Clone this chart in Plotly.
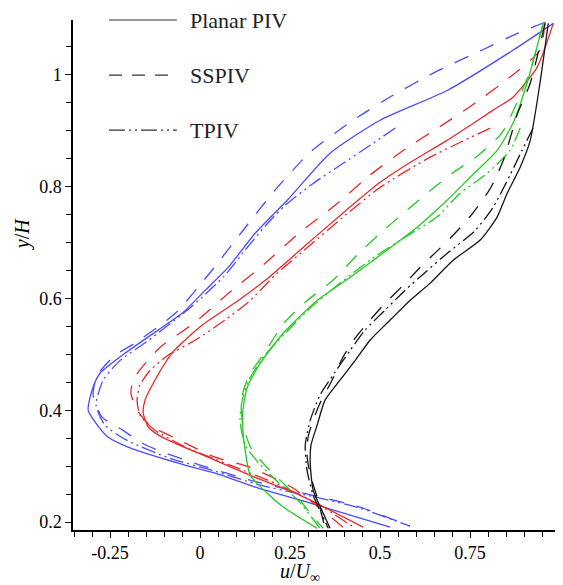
import plotly.graph_objects as go

# ---- data (u/U_inf, y/H) ----
blue_planar_u = [0.981, 0.869, 0.686, 0.5, 0.361, 0.242, 0.153, 0.078, 0.014, -0.05, -0.117, -0.208, -0.278, -0.3, -0.311, -0.292, -0.256, -0.2, -0.117, -0.042, 0.042, 0.153, 0.306, 0.528]
blue_planar_y = [1.091, 1.043, 0.971, 0.918, 0.859, 0.775, 0.716, 0.655, 0.614, 0.573, 0.543, 0.502, 0.466, 0.436, 0.4, 0.379, 0.352, 0.334, 0.316, 0.302, 0.2875, 0.2625, 0.234, 0.191]

blue_sspiv_u = [0.958, 0.881, 0.769, 0.653, 0.536, 0.425, 0.306, 0.208, 0.119, 0.033, -0.069, -0.181, -0.236, -0.286, -0.297, -0.272, -0.214, -0.161, -0.103, 0.0, 0.139, 0.333, 0.444, 0.583]
blue_sspiv_y = [1.093, 1.073, 1.039, 1.004, 0.9625, 0.918, 0.861, 0.793, 0.721, 0.65, 0.573, 0.520, 0.498, 0.4625, 0.427, 0.3875, 0.364, 0.341, 0.325, 0.302, 0.275, 0.245, 0.227, 0.193]

blue_tpiv_u = [0.542, 0.481, 0.389, 0.314, 0.236, 0.181, 0.125, 0.069, -0.022, -0.147, -0.222, -0.269, -0.289, -0.264, -0.203, -0.083, 0.042, 0.167, 0.333, 0.444, 0.583]
blue_tpiv_y = [0.904, 0.877, 0.8375, 0.805, 0.766, 0.729, 0.686, 0.641, 0.586, 0.523, 0.489, 0.454, 0.409, 0.373, 0.346, 0.314, 0.291, 0.266, 0.243, 0.225, 0.193]

red_planar_u = [0.981, 0.936, 0.869, 0.814, 0.686, 0.592, 0.5, 0.389, 0.278, 0.181, 0.106, 0.006, -0.078, -0.125, -0.153, -0.158, -0.144, -0.106, 0.022, 0.153, 0.278, 0.453]
red_planar_y = [1.091, 1.0125, 0.959, 0.936, 0.882, 0.846, 0.807, 0.748, 0.686, 0.632, 0.596, 0.552, 0.502, 0.454, 0.418, 0.395, 0.370, 0.352, 0.316, 0.280, 0.248, 0.191]

red_sspiv_u = [0.958, 0.944, 0.861, 0.756, 0.667, 0.569, 0.472, 0.375, 0.278, 0.181, 0.083, -0.014, -0.111, -0.161, -0.186, -0.192, -0.175, -0.139, -0.056, 0.042, 0.139, 0.258, 0.397]
red_sspiv_y = [1.093, 1.043, 0.995, 0.945, 0.907, 0.866, 0.820, 0.766, 0.718, 0.6625, 0.611, 0.557, 0.5125, 0.477, 0.454, 0.430, 0.4, 0.373, 0.346, 0.316, 0.298, 0.261, 0.191]

red_tpiv_u = [0.806, 0.639, 0.5, 0.403, 0.306, 0.208, 0.139, 0.069, -0.014, -0.089, -0.139, -0.167, -0.175, -0.167, -0.125, -0.033, 0.083, 0.222, 0.333, 0.422]
red_tpiv_y = [0.904, 0.852, 0.798, 0.748, 0.695, 0.641, 0.596, 0.561, 0.525, 0.498, 0.471, 0.445, 0.418, 0.391, 0.364, 0.332, 0.302, 0.266, 0.230, 0.193]

green_planar_u = [0.953, 0.908, 0.869, 0.825, 0.75, 0.686, 0.603, 0.492, 0.417, 0.325, 0.231, 0.167, 0.131, 0.119, 0.119, 0.125, 0.139, 0.186, 0.231, 0.325]
green_planar_y = [1.091, 0.984, 0.9125, 0.864, 0.816, 0.775, 0.727, 0.673, 0.6375, 0.596, 0.5375, 0.484, 0.441, 0.4, 0.364, 0.329, 0.284, 0.252, 0.227, 0.189]

green_sspiv_u = [0.953, 0.917, 0.889, 0.839, 0.772, 0.7, 0.633, 0.569, 0.5, 0.436, 0.369, 0.292, 0.228, 0.181, 0.136, 0.114, 0.119, 0.144, 0.186, 0.242, 0.278, 0.314, 0.342]
green_sspiv_y = [1.091, 1.007, 0.9625, 0.896, 0.855, 0.823, 0.789, 0.754, 0.716, 0.677, 0.632, 0.593, 0.552, 0.504, 0.4625, 0.418, 0.373, 0.329, 0.298, 0.2625, 0.239, 0.209, 0.189]

green_tpiv_u = [0.889, 0.861, 0.797, 0.722, 0.658, 0.569, 0.478, 0.389, 0.300, 0.239, 0.175, 0.136, 0.117, 0.111, 0.125, 0.161, 0.217, 0.272, 0.333]
green_tpiv_y = [0.904, 0.864, 0.823, 0.7875, 0.745, 0.709, 0.671, 0.627, 0.579, 0.539, 0.495, 0.454, 0.418, 0.382, 0.3375, 0.307, 0.271, 0.239, 0.189]

black_planar_u = [0.967, 0.944, 0.917, 0.889, 0.853, 0.825, 0.778, 0.703, 0.639, 0.583, 0.528, 0.472, 0.431, 0.389, 0.347, 0.325, 0.308, 0.306, 0.314, 0.342, 0.361]
black_planar_y = [1.091, 0.984, 0.882, 0.834, 0.7875, 0.745, 0.704, 0.668, 0.627, 0.596, 0.561, 0.525, 0.489, 0.454, 0.418, 0.373, 0.3375, 0.305, 0.257, 0.216, 0.189]

black_sspiv_u = [0.958, 0.917, 0.883, 0.842, 0.806, 0.75, 0.708, 0.661, 0.611, 0.564, 0.514, 0.472, 0.431, 0.397, 0.367, 0.333, 0.314, 0.3, 0.297, 0.306, 0.328, 0.347]
black_sspiv_y = [1.091, 0.984, 0.932, 0.846, 0.796, 0.746, 0.716, 0.686, 0.655, 0.623, 0.591, 0.561, 0.529, 0.495, 0.454, 0.4125, 0.382, 0.352, 0.320, 0.284, 0.239, 0.189]

black_tpiv_u = [0.925, 0.894, 0.861, 0.814, 0.764, 0.686, 0.625, 0.569, 0.514, 0.458, 0.417, 0.375, 0.333, 0.306, 0.292, 0.297, 0.314, 0.339, 0.356]
black_tpiv_y = [0.904, 0.864, 0.820, 0.7625, 0.721, 0.680, 0.646, 0.614, 0.579, 0.543, 0.507, 0.468, 0.427, 0.382, 0.3375, 0.293, 0.248, 0.2125, 0.189]

x_tickvals = [-0.25, 0, 0.25, 0.5, 0.75]
x_ticktext = ["-0.25", "0", "0.25", "0.5", "0.75"]
y_tickvals = [0.2, 0.4, 0.6, 0.8, 1.0]
y_ticktext = ["0.2", "0.4", "0.6", "0.8", "1"]
legend_labels = ["Planar PIV", "SSPIV", "TPIV"]

# ---- styling ----
BLUE = "#4b4bff"
RED = "#e52a2a"
GREEN = "#26c826"
BLACK = "#151515"
DASH_SS = "15px,13px"
DASH_TP = "14px,4px,2px,4px,2px,4px"
FONT = "Liberation Serif"

series = [
    (blue_planar_u, blue_planar_y, BLUE, "solid"),
    (blue_sspiv_u, blue_sspiv_y, BLUE, DASH_SS),
    (blue_tpiv_u, blue_tpiv_y, BLUE, DASH_TP),
    (red_planar_u, red_planar_y, RED, "solid"),
    (red_sspiv_u, red_sspiv_y, RED, DASH_SS),
    (red_tpiv_u, red_tpiv_y, RED, DASH_TP),
    (green_planar_u, green_planar_y, GREEN, "solid"),
    (green_sspiv_u, green_sspiv_y, GREEN, DASH_SS),
    (green_tpiv_u, green_tpiv_y, GREEN, DASH_TP),
    (black_planar_u, black_planar_y, BLACK, "solid"),
    (black_sspiv_u, black_sspiv_y, BLACK, DASH_SS),
    (black_tpiv_u, black_tpiv_y, BLACK, DASH_TP),
]

fig = go.Figure()
for u, y, c, d in series:
    fig.add_trace(go.Scatter(x=u, y=y, mode="lines",
                             line=dict(color=c, width=1.3, dash=d,
                                       shape="spline", smoothing=0.6),
                             showlegend=False, hoverinfo="skip"))

axis_common = dict(
    showline=True, linecolor="black", linewidth=1.5, mirror=False,
    showgrid=False, zeroline=False, ticks="outside", ticklen=6,
    tickwidth=1, tickcolor="black",
    tickfont=dict(family=FONT, size=18, color="black"),
)
fig.update_xaxes(range=[-0.353, 1.008], tickmode="array",
                 tickvals=x_tickvals, ticktext=x_ticktext,
                 minor=dict(tickmode="linear", tick0=0, dtick=0.05, ticks="outside",
                            ticklen=5, tickcolor="black", tickwidth=1),
                 **axis_common)
fig.update_yaxes(range=[0.186, 1.097], tickmode="array",
                 tickvals=y_tickvals, ticktext=y_ticktext,
                 minor=dict(tickmode="linear", tick0=0, dtick=0.05, ticks="outside",
                            ticklen=5, tickcolor="black", tickwidth=1),
                 **axis_common)

# legend (key lines + labels in the upper left)
legend_y = [1.0, 0.892, 0.784]
legend_dash_px = ["solid", "13px,10px", "16px,4px,2px,4px,2px,4px"]
for lab, ly, dsh in zip(legend_labels, legend_y, legend_dash_px):
    fig.add_shape(type="line", xref="paper", yref="paper",
                  x0=0.0735, x1=0.212, y0=ly, y1=ly,
                  line=dict(color="#333333", width=1.2, dash=dsh))
    fig.add_annotation(text=lab, xref="paper", yref="paper", x=0.235, y=ly,
                       xanchor="left", yanchor="middle", showarrow=False,
                       font=dict(family=FONT, size=22, color="#222222"))

fig.add_annotation(text="<i>y</i>/<i>H</i>", xref="paper", yref="paper",
                   x=-0.104, y=0.58, textangle=-90, showarrow=False,
                   xanchor="center", yanchor="middle",
                   font=dict(family=FONT, size=20, color="black"))
fig.add_annotation(text="<i>u</i>/<i>U</i><sub>∞</sub>", xref="paper", yref="paper",
                   x=0.463, y=-0.084, showarrow=False,
                   xanchor="center", yanchor="middle",
                   font=dict(family=FONT, size=20, color="black"))

# page body has an 8px margin, so the figure is 8px smaller on each axis
fig.update_layout(width=555, height=577,
                  margin=dict(l=65, r=0, t=12, b=55),
                  paper_bgcolor="white", plot_bgcolor="white",
                  showlegend=False)

fig.write_html("out.html")
